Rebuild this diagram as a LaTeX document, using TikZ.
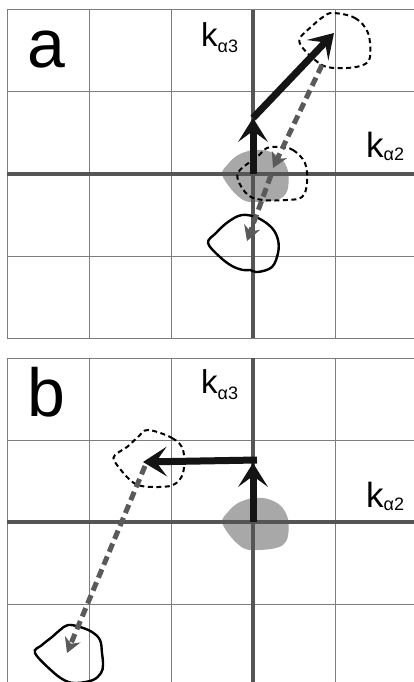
\documentclass[tikz,border=0pt]{standalone}
\usepackage{fontspec}
\setmainfont{Liberation Sans}
\usetikzlibrary{arrows.meta}
\definecolor{gridc}{RGB}{125,125,125}
\definecolor{axisc}{RGB}{85,85,85}
\definecolor{blobc}{RGB}{168,168,168}
\definecolor{dashc}{RGB}{90,90,90}
\definecolor{arrc}{RGB}{20,20,20}
\tikzset{
  gridline/.style={draw=gridc, line width=1pt},
  axisline/.style={draw=axisc, line width=4pt},
  grayblob/.style={fill=blobc},
  dashblob/.style={draw=black, line width=2pt, dash pattern=on 5pt off 3.5pt},
  solidblob/.style={draw=black, line width=2.4pt},
  bigarrow/.style={draw=arrc, line width=7pt, -{Stealth[length=24pt,width=30pt,inset=11pt,line width=0pt]}},
  dasharrow/.style={draw=dashc, line width=5pt, dash pattern=on 9pt off 5pt, -{Stealth[length=15pt,width=17pt,inset=5pt,line width=0pt]}},
  panellabel/.style={font=\fontsize{68}{68}\selectfont, inner sep=0pt},
  klabel/.style={font=\fontsize{33}{33}\selectfont, inner sep=0pt, anchor=base west},
  klabelbig/.style={klabel, font=\fontsize{35}{35}\selectfont},
}
\newcommand\kidx[2]{k\raisebox{#2}{\fontsize{18}{18}\selectfont α#1}}
\newcommand\grayshape{plot[smooth cycle, tension=0.55] coordinates {(-31,0) (-25,-10) (-15,-19) (0,-24) (15,-23) (28,-16) (35,-3) (35,14) (30,23) (18,27) (0,28) (-10,26) (-22,15)}}
\begin{document}
\begin{tikzpicture}[x=1pt,y=-1pt]
\useasboundingbox (0,0) rectangle (414,682);
\fill[white] (0,0) rectangle (414,682);

% ================= panel a =================
\foreach \x in {7,89,171,335} \draw[gridline] (\x,10) -- (\x,338);
\foreach \y in {10,92,256,338} \draw[gridline] (7,\y) -- (414,\y);
\begin{scope}[shift={(253,174)}]
  \fill[grayblob] \grayshape;
\end{scope}
\draw[axisline] (253,10) -- (253,338);
\draw[axisline] (7,174) -- (414,174);
% dashed outline top right
\draw[dashblob] plot[smooth cycle, tension=0.6] coordinates {(333,13) (355,18) (368,33) (370,57) (363,65) (347,68) (327,67) (315,60) (302,47) (300,38) (311,27) (323,17)};
% dashed outline middle
\draw[dashblob] plot[smooth cycle, tension=0.6] coordinates {(280,147) (293,150) (305,163) (307,183) (302,197) (287,200) (263,200) (248,195) (238,180) (240,170) (257,157) (267,148)};
% solid outline bottom
\draw[solidblob] plot[smooth cycle, tension=0.6] coordinates {(208,243) (216,233) (228,222) (242,215) (258,218) (272,228) (278,240) (278,253) (272,267) (258,272) (250,270) (243,270) (232,266) (220,257)};
\coordinate (oa) at (253,174);
\coordinate (va) at (253,118);
\coordinate (ta) at (334,33);
\coordinate (d1) at (322,65);
\coordinate (d2) at (273,168);
\coordinate (d2b) at (271,175);
\coordinate (d3) at (247,241);
\draw[bigarrow] (oa) -- (va);
\draw[bigarrow] (va) -- (ta);
\draw[dasharrow] (d1) -- (d2);
\draw[dasharrow] (d2b) -- (d3);
\node[panellabel] (la) at (46,50) {a};
\node[klabel] (k3a) at (201,47) {\kidx{3}{-6pt}};
\node[klabelbig] (k2a) at (366,157) {\kidx{2}{-3pt}};

% ================= panel b =================
\begin{scope}[shift={(0,348)}]
  \foreach \x in {7,89,171,335} \draw[gridline] (\x,10) -- (\x,334);
  \foreach \y in {10,92,256} \draw[gridline] (7,\y) -- (414,\y);
  \begin{scope}[shift={(253,174)}]
    \fill[grayblob] \grayshape;
  \end{scope}
  \draw[axisline] (253,10) -- (253,334);
  \draw[axisline] (7,174) -- (414,174);
\end{scope}
% dashed outline upper left
\draw[dashblob] plot[smooth cycle, tension=0.6] coordinates {(148,430) (172,438) (183,450) (183,473) (173,485) (153,487) (138,485) (128,478) (115,462) (115,455) (127,447) (138,437)};
% solid outline bottom left
\draw[solidblob] plot[smooth cycle, tension=0.6] coordinates {(35,653) (42,645) (52,637) (60,630) (68,625) (80,627) (92,632) (100,640) (102,653) (103,665) (101,673) (93,680) (77,683) (66,681) (53,672)};
\coordinate (ob) at (253,522);
\coordinate (vb) at (253,463);
\coordinate (hs) at (257,460);
\coordinate (hb) at (143,462);
\coordinate (e1) at (145,466);
\coordinate (e2) at (67,653);
\draw[bigarrow] (ob) -- (vb);
\draw[bigarrow] (hs) -- (hb);
\draw[dasharrow] (e1) -- (e2);
\node[panellabel] (lb) at (46,392) {b};
\node[klabel] (k3b) at (201,393) {\kidx{3}{-6pt}};
\node[klabelbig] (k2b) at (366,507) {\kidx{2}{-3pt}};
\end{tikzpicture}
\end{document}
